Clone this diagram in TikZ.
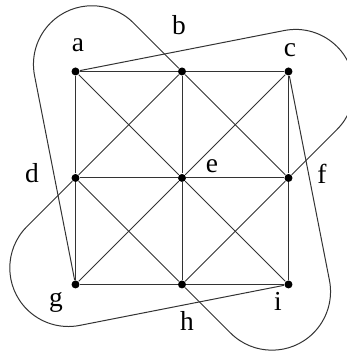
\documentclass[tikz,border=0pt]{standalone}
\usepackage{fontspec}
\setmainfont{Liberation Serif}
\begin{document}
\begin{tikzpicture}[x=1.5cm,y=1.5cm,
  vtx/.style={circle,fill=black,inner sep=0pt,minimum size=3.2pt},
  lbl/.style={anchor=base,inner sep=0pt,font=\fontsize{11}{13}\selectfont},
  edge/.style={line width=0.4pt,black!80},
  hyper/.style={line width=0.4pt,black!80}]
\useasboundingbox (-1.709,-1.653) rectangle (1.549,1.671);
% vertices
\node[vtx] (a) at (-1,1) {};
\node[vtx] (b) at (0,1) {};
\node[vtx] (c) at (1,1) {};
\node[vtx] (d) at (-1,0) {};
\node[vtx] (e) at (0,0) {};
\node[vtx] (f) at (1,0) {};
\node[vtx] (g) at (-1,-1) {};
\node[vtx] (h) at (0,-1) {};
\node[vtx] (i) at (1,-1) {};
% labels
\node[lbl] (la) at (-0.977,1.183) {a};
\node[lbl] (lb) at (-0.028,1.343) {b};
\node[lbl] (lc) at (1.014,1.136) {c};
\node[lbl] (ld) at (-1.408,-0.038) {d};
\node[lbl] (le) at (0.282,0.047) {e};
\node[lbl] (lf) at (1.315,-0.056) {f};
\node[lbl] (lg) at (-1.183,-1.211) {g};
\node[lbl] (lh) at (0.047,-1.437) {h};
\node[lbl] (li) at (0.901,-1.249) {i};
% grid edges and diagonals
\foreach \u/\v in {a/b,b/c,d/e,e/f,g/h,h/i,a/d,d/g,b/e,e/h,c/f,f/i,
                   a/e,b/d,b/f,c/e,d/h,e/g,e/i,f/h}
  \draw[edge] (\u) -- (\v);
% hyperedge loops
\foreach \r/\p/\q in {0/b/g,-90/f/a,180/h/c,90/d/i}
  \draw[hyper,rotate=\r] (\p) -- (-0.456,1.456)
     arc[start angle=45,end angle=191.1,radius=0.55] -- (\q);
\end{tikzpicture}
\end{document}
